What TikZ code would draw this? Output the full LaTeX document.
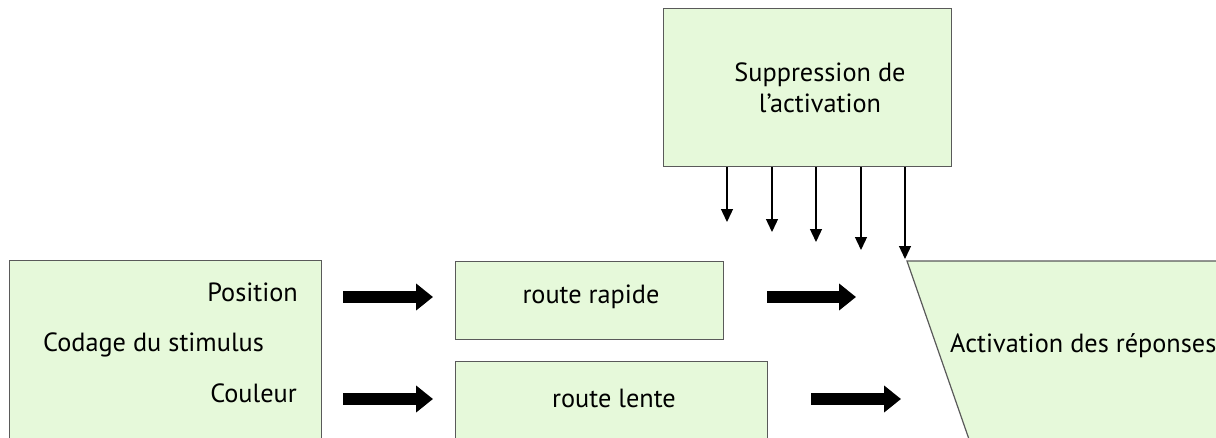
\documentclass[tikz,border=0pt]{standalone}
\usepackage{fontspec}
\setmainfont{PT Sans}
\usetikzlibrary{arrows.meta}
\definecolor{boxfill}{HTML}{E6F9DA}
\definecolor{boxline}{HTML}{5A5A5A}
\begin{document}
\begin{tikzpicture}[x=1pt,y=-1pt,
  box/.style={draw=boxline,fill=boxfill,line width=1.2pt,inner sep=0pt,anchor=north west},
  lbl/.style={font=\fontsize{26.3}{31}\selectfont,inner sep=0pt},
  bigarrow/.style={line width=12pt,-{Triangle[length=17pt,width=26pt]}},
  thinarrow/.style={line width=1.3pt,-{Triangle[length=13pt,width=12pt]}}]
\useasboundingbox (0,0) rectangle (1216,437);
\clip (0,0) rectangle (1216,437);
% boxes
\node[box,minimum width=288pt,minimum height=158pt] (sup) at (663,8) {};
\node[lbl,align=center] (supt) at (820,88) {Suppression de\\l’activation};
\node[box,minimum width=312pt,minimum height=200pt] (stim) at (9,260) {};
\node[lbl,anchor=base east] (pos) at (298,301) {Position};
\node[lbl,anchor=base west] (cod) at (43,351) {Codage du stimulus};
\node[lbl,anchor=base east] (coul) at (297,402) {Couleur};
\node[box,minimum width=268pt,minimum height=78pt] (rap) at (455,261) {};
\node[lbl,anchor=base] (rapt) at (591,303) {route rapide};
\node[box,minimum width=312pt,minimum height=100pt] (len) at (455,361) {};
\node[lbl,anchor=base] (lent) at (614,407) {route lente};
% trapezoid
\fill[boxfill] (907,261) -- (1230,261) -- (1230,445) -- (971,445) -- cycle;
\draw[boxline,line width=1.2pt] (1230,261) -- (907,261) coordinate (actTL) -- (971,445);
\node[lbl,anchor=base west] (act) at (950,352) {Activation des réponses};
% big arrows
\coordinate (a1s) at (343,297); \coordinate (a1e) at (433,297);
\coordinate (a2s) at (343,399); \coordinate (a2e) at (433,399);
\coordinate (a3s) at (767,297); \coordinate (a3e) at (856,297);
\coordinate (a4s) at (811,399); \coordinate (a4e) at (901,399);
\draw[bigarrow] (a1s) -- (a1e);
\draw[bigarrow] (a2s) -- (a2e);
\draw[bigarrow] (a3s) -- (a3e);
\draw[bigarrow] (a4s) -- (a4e);
% thin arrows
\foreach \x/\y [count=\i] in {727/222,772/232,816/242,861/250,905/259}{
  \coordinate (t\i) at (\x,\y);
  \draw[thinarrow] (sup.south -| t\i) -- (t\i);
}
\end{tikzpicture}
\end{document}
